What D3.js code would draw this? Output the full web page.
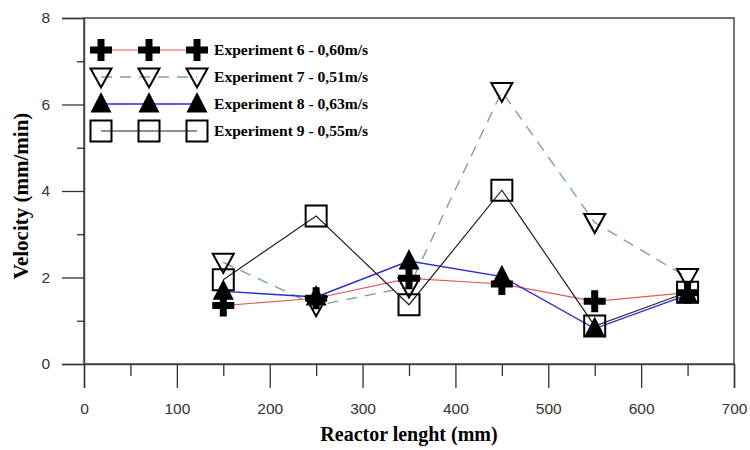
<!DOCTYPE html>
<html>
<head>
<meta charset="utf-8">
<script src="https://cdn.jsdelivr.net/npm/d3@7"></script>
<style>
  body { margin: 0; background: #fff; }
</style>
</head>
<body>
<div id="chart"></div>
<script>
// data
const reactorLength = [150, 250, 350, 450, 550, 650];
const exp6 = [1.35, 1.52, 1.98, 1.85, 1.45, 1.65];
const exp7 = [2.35, 1.35, 1.78, 6.3, 3.27, 2.0];
const exp8 = [1.68, 1.55, 2.38, 2.02, 0.82, 1.6];
const exp9 = [1.95, 3.42, 1.37, 4.02, 0.88, 1.66];
const seriesNames = ['Experiment 6 - 0,60m/s', 'Experiment 7 - 0,51m/s', 'Experiment 8 - 0,63m/s', 'Experiment 9 - 0,55m/s'];
const xTicks = [0, 100, 200, 300, 400, 500, 600, 700];
const yTicks = [0, 2, 4, 6, 8];

const width = 750, height = 450;
const margin = {left: 84, right: 16, top: 18, bottom: 86};

const svg = d3.select('#chart').append('svg')
    .attr('width', width)
    .attr('height', height);

const x = d3.scaleLinear().domain([0, 700]).range([margin.left, width - margin.right]);
const y = d3.scaleLinear().domain([0, 8]).range([height - margin.bottom, margin.top]);

// frame
svg.append('rect')
    .attr('x', x(0)).attr('y', y(8))
    .attr('width', x(700) - x(0)).attr('height', y(0) - y(8))
    .attr('fill', 'none').attr('stroke', '#444').attr('stroke-width', 1.5);

// axes
svg.append('g')
    .attr('transform', `translate(0,${y(0)})`)
    .call(d3.axisBottom(x).tickValues(xTicks).tickSize(24).tickPadding(15).tickFormat(d3.format('d')));
svg.append('g')
    .attr('transform', `translate(0,${y(0)})`)
    .call(d3.axisBottom(x).tickValues(d3.range(50, 700, 100)).tickSize(12).tickFormat(''))
    .select('.domain').remove();
svg.append('g')
    .attr('transform', `translate(${x(0)},0)`)
    .call(d3.axisLeft(y).tickValues(yTicks).tickSize(22).tickPadding(12));
svg.append('g')
    .attr('transform', `translate(${x(0)},0)`)
    .call(d3.axisLeft(y).tickValues([1, 3, 5, 7]).tickSize(7).tickFormat(''))
    .select('.domain').remove();

svg.selectAll('.domain').attr('stroke', '#444').attr('stroke-width', 1.5);
svg.selectAll('.tick line').attr('stroke', '#333').attr('stroke-width', 1.3);
svg.selectAll('.tick text')
    .attr('font-family', 'Liberation Sans, Arial, sans-serif')
    .attr('font-size', 15.5)
    .attr('fill', '#333');

// axis titles
svg.append('text')
    .attr('x', (x(0) + x(700)) / 2).attr('y', 441)
    .attr('text-anchor', 'middle')
    .attr('font-family', 'Liberation Serif, Times New Roman, serif')
    .attr('font-weight', 'bold').attr('font-size', 20)
    .text('Reactor lenght (mm)');
svg.append('text')
    .attr('transform', `translate(28,196) rotate(-90)`)
    .attr('text-anchor', 'middle')
    .attr('font-family', 'Liberation Serif, Times New Roman, serif')
    .attr('font-weight', 'bold').attr('font-size', 21)
    .text('Velocity (mm/min)');

// marker shapes
const plusPath = 'M-3.5,-11H3.5V-3.5H11V3.5H3.5V11H-3.5V3.5H-11V-3.5H-3.5Z';
const downTri = 'M-10.5,-8.5H10.5L0,10.5Z';
const upTri = 'M0,-12L10.5,8.5H-10.5Z';
const squarePath = 'M-10.5,-10.5H10.5V10.5H-10.5Z';

const series = [
  {name: seriesNames[0], values: exp6, color: '#e05a5a', dash: null, width: 1.2, shape: plusPath, fill: '#000', stroke: 'none'},
  {name: seriesNames[1], values: exp7, color: '#7fa0a2', dash: '11,8', width: 1.4, shape: downTri, fill: 'none', stroke: '#000'},
  {name: seriesNames[2], values: exp8, color: '#2a2ad0', dash: null, width: 1.4, shape: upTri, fill: '#000', stroke: 'none'},
  {name: seriesNames[3], values: exp9, color: '#222', dash: null, width: 1.2, shape: squarePath, fill: 'none', stroke: '#000'}
];

const line = d3.line().x((d, i) => x(reactorLength[i])).y(d => y(d));

series.forEach(s => {
  svg.append('path')
      .datum(s.values)
      .attr('d', line)
      .attr('fill', 'none')
      .attr('stroke', s.color)
      .attr('stroke-width', s.width)
      .attr('stroke-dasharray', s.dash);
});
series.forEach(s => {
  svg.selectAll(null)
      .data(s.values)
      .enter()
      .append('path')
      .attr('d', s.shape)
      .attr('transform', (d, i) => `translate(${x(reactorLength[i])},${y(d)})`)
      .attr('fill', s.fill)
      .attr('stroke', s.stroke)
      .attr('stroke-width', 2);
});

// legend
const legendX = [101, 149, 197];
const legend = svg.append('g');
series.forEach((s, i) => {
  const ly = 50 + i * 27;
  legend.append('line')
      .attr('x1', legendX[0]).attr('x2', legendX[2])
      .attr('y1', ly).attr('y2', ly)
      .attr('stroke', s.color)
      .attr('stroke-width', s.width)
      .attr('stroke-dasharray', s.dash);
  legendX.forEach(lx => {
    legend.append('path')
        .attr('d', s.shape)
        .attr('transform', `translate(${lx},${ly})`)
        .attr('fill', s.fill)
        .attr('stroke', s.stroke)
        .attr('stroke-width', 2);
  });
  legend.append('text')
      .attr('x', 214).attr('y', ly + 5)
      .attr('font-family', 'Liberation Serif, Times New Roman, serif')
      .attr('font-weight', 'bold').attr('font-size', 15.6)
      .text(s.name);
});
</script>
</body>
</html>
